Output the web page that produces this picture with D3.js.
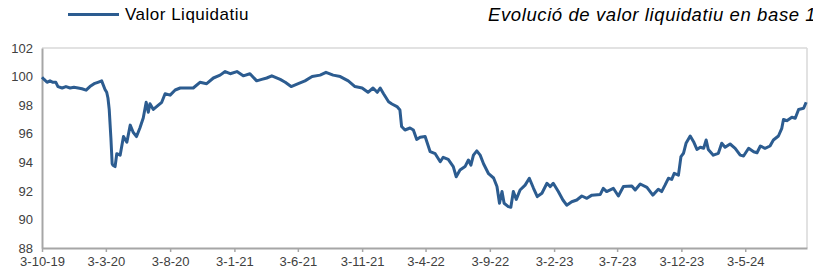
<!DOCTYPE html>
<html><head><meta charset="utf-8">
<script src="https://cdn.jsdelivr.net/npm/d3@7"></script>
<style>body{margin:0;background:#fff}svg{display:block}</style>
</head><body><svg id="c" width="813" height="273"></svg>
<script>
const seriesName = "Valor Liquidatiu";
const title = "Evolució de valor liquidatiu en base 100";
const dates = ["2019-10-03","2019-10-08","2019-10-15","2019-10-22","2019-10-29","2019-11-05","2019-11-10","2019-11-20","2019-11-29","2019-12-09","2019-12-18","2019-12-28","2020-01-06","2020-01-16","2020-01-25","2020-02-04","2020-02-13","2020-02-22","2020-03-01","2020-03-05","2020-03-08","2020-03-11","2020-03-15","2020-03-18","2020-03-20","2020-03-25","2020-03-29","2020-04-06","2020-04-14","2020-04-22","2020-04-30","2020-05-07","2020-05-15","2020-05-23","2020-05-31","2020-06-07","2020-06-12","2020-06-16","2020-06-24","2020-07-06","2020-07-14","2020-07-22","2020-08-03","2020-08-15","2020-08-27","2020-09-12","2020-09-27","2020-10-13","2020-10-29","2020-11-14","2020-11-30","2020-12-12","2020-12-24","2021-01-09","2021-01-24","2021-02-09","2021-02-25","2021-03-09","2021-03-21","2021-04-02","2021-04-22","2021-05-04","2021-05-18","2021-06-04","2021-06-20","2021-07-07","2021-07-26","2021-08-09","2021-08-26","2021-09-12","2021-10-01","2021-10-17","2021-11-03","2021-11-17","2021-11-29","2021-12-09","2021-12-16","2021-12-24","2022-01-05","2022-01-13","2022-01-25","2022-02-01","2022-02-05","2022-02-13","2022-02-25","2022-03-05","2022-03-13","2022-03-21","2022-04-02","2022-04-14","2022-04-26","2022-05-08","2022-05-15","2022-05-27","2022-06-08","2022-06-15","2022-06-24","2022-07-06","2022-07-14","2022-07-20","2022-07-26","2022-08-03","2022-08-11","2022-08-19","2022-08-31","2022-09-12","2022-09-20","2022-09-26","2022-10-02","2022-10-07","2022-10-17","2022-10-23","2022-10-29","2022-11-05","2022-11-14","2022-11-26","2022-12-06","2022-12-16","2022-12-25","2023-01-05","2023-01-17","2023-01-25","2023-02-01","2023-02-13","2023-02-24","2023-03-05","2023-03-17","2023-03-29","2023-04-10","2023-04-22","2023-05-04","2023-05-24","2023-05-31","2023-06-08","2023-06-24","2023-07-06","2023-07-18","2023-08-07","2023-08-15","2023-08-27","2023-09-12","2023-09-26","2023-10-09","2023-10-17","2023-10-25","2023-11-02","2023-11-10","2023-11-16","2023-11-26","2023-12-02","2023-12-08","2023-12-14","2023-12-24","2024-01-01","2024-01-09","2024-01-17","2024-01-25","2024-01-31","2024-02-05","2024-02-17","2024-02-29","2024-03-08","2024-03-16","2024-03-28","2024-04-09","2024-04-21","2024-04-29","2024-05-11","2024-05-23","2024-05-31","2024-06-08","2024-06-19","2024-07-01","2024-07-09","2024-07-21","2024-07-29","2024-08-02","2024-08-10","2024-08-22","2024-08-30","2024-09-07","2024-09-19","2024-09-25"];
const values = [99.95,99.8,99.6,99.7,99.6,99.6,99.3,99.2,99.3,99.2,99.25,99.2,99.15,99.05,99.3,99.5,99.6,99.7,99.1,98.9,98.5,97.7,95.7,93.9,93.8,93.7,94.6,94.5,95.8,95.4,96.6,96.1,95.8,96.4,97.1,98.2,97.5,98.1,97.7,98.0,98.2,98.8,98.7,99.06,99.2,99.2,99.2,99.6,99.5,99.9,100.1,100.35,100.2,100.35,100.05,100.2,99.7,99.8,99.9,100.05,99.8,99.6,99.3,99.5,99.7,100.0,100.1,100.3,100.1,100.0,99.7,99.3,99.2,98.9,99.2,98.9,99.2,98.8,98.24,98.08,97.9,97.66,96.5,96.26,96.4,96.26,95.6,95.75,95.8,94.74,94.6,94.04,94.35,94.2,93.7,92.99,93.46,93.7,94.16,93.8,94.5,94.8,94.5,93.9,93.2,92.9,92.3,91.13,91.95,91.13,90.9,90.85,91.95,91.4,92.06,92.4,92.88,92.18,91.6,91.83,92.53,92.3,92.53,91.95,91.36,91.0,91.24,91.36,91.64,91.48,91.7,91.75,92.18,91.95,92.18,91.64,92.3,92.34,92.06,92.48,92.25,91.7,92.11,91.95,92.4,92.88,92.8,93.23,93.1,94.4,94.63,95.33,95.84,95.44,94.9,95.05,94.98,95.56,94.9,94.5,94.63,95.33,95.05,95.28,94.98,94.5,94.44,94.98,94.74,94.67,95.14,94.98,95.14,95.56,95.84,96.38,97.0,96.91,97.15,97.08,97.7,97.78,98.2];
const xTickDates = ["2019-10-03","2020-03-03","2020-08-03","2021-01-03","2021-06-03","2021-11-03","2022-04-03","2022-09-03","2023-02-03","2023-07-03","2023-12-03","2024-05-03"];
const yTicks = [88,90,92,94,96,98,100,102];
const xDomain = ["2019-10-03","2024-09-27"];

const parse = d3.utcParse("%Y-%m-%d");
const data = dates.map((d,i)=>({date:parse(d), v:values[i]}));
const svg = d3.select("#c");
const L=42, R=807, T=48, B=248;
const x = d3.scaleUtc().domain(xDomain.map(parse)).range([L,R]);
const y = d3.scaleLinear().domain([88,102]).range([B,T]);
const font = "Liberation Sans, Arial, sans-serif";
const fmt = d => `${d.getUTCDate()}-${d.getUTCMonth()+1}-${String(d.getUTCFullYear()).slice(2)}`;

// frame (top/right light border)
svg.append("line").attr("x1",L).attr("x2",R).attr("y1",T).attr("y2",T).attr("stroke","#d9d9d9").attr("stroke-width",1.5);
svg.append("line").attr("x1",R).attr("x2",R).attr("y1",T).attr("y2",B).attr("stroke","#d9d9d9").attr("stroke-width",1.5);

// x axis
const xAxis = svg.append("g").attr("transform",`translate(0,${B})`)
  .call(d3.axisBottom(x).tickValues(xTickDates.map(parse)).tickFormat(fmt).tickSize(4).tickPadding(5).tickSizeOuter(0));
xAxis.select(".domain").attr("stroke","#a6a6a6").attr("stroke-width",2);
xAxis.selectAll(".tick line").attr("stroke","#a6a6a6").attr("stroke-width",1.5);
xAxis.selectAll("text").attr("font-family",font).attr("font-size",13).attr("fill","#404040");

// y axis
const yAxis = svg.append("g").attr("transform",`translate(${L},0)`)
  .call(d3.axisLeft(y).tickValues(yTicks).tickSize(0).tickPadding(9).tickSizeOuter(0));
yAxis.select(".domain").attr("stroke","#a6a6a6").attr("stroke-width",2);
yAxis.selectAll("text").attr("font-family",font).attr("font-size",13).attr("fill","#404040");

// line
svg.append("path").datum(data)
  .attr("d", d3.line().x(d=>x(d.date)).y(d=>y(d.v)))
  .attr("fill","none").attr("stroke","#2c5c90").attr("stroke-width",3).attr("stroke-linejoin","round");

// legend
svg.append("line").attr("x1",68).attr("x2",119).attr("y1",14.5).attr("y2",14.5).attr("stroke","#2c5c90").attr("stroke-width",3);
svg.append("text").attr("x",125).attr("y",20).attr("font-family",font).attr("font-size",17).attr("letter-spacing",0.5).attr("fill","#000").text(seriesName);

// title
svg.append("text").attr("x",488).attr("y",21).attr("font-family",font).attr("font-size",18.5).attr("letter-spacing",0.6).attr("font-style","italic").attr("fill","#000").text(title);
</script></body></html>
